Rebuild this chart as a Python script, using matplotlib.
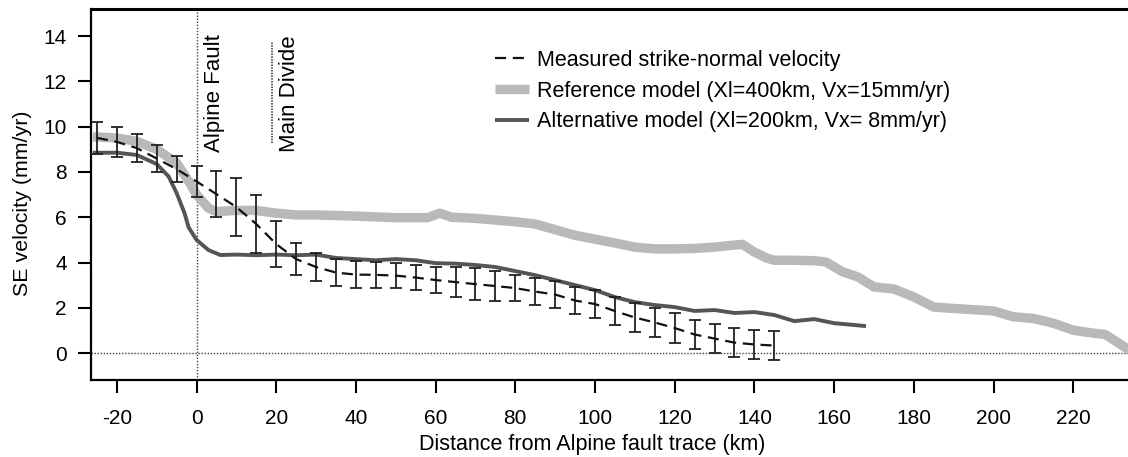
import numpy as np
import matplotlib
matplotlib.use('Agg')
from matplotlib import pyplot as plt

plt.rcParams['font.family'] = ['Liberation Sans', 'DejaVu Sans']
plt.rcParams['axes.unicode_minus'] = False

# measured strike-normal velocity (every 5 km) with error bar limits
meas_x = np.arange(-25, 150, 5)
meas_top = [10.22, 10.0, 9.67, 9.19, 8.70, 8.26, 8.04, 7.73, 6.98, 5.83,
            4.86, 4.42, 4.15, 4.06, 4.04, 3.97, 3.89, 3.80, 3.80, 3.75,
            3.62, 3.44, 3.31, 3.18, 2.92, 2.78, 2.47, 2.21, 1.99, 1.77,
            1.46, 1.28, 1.10, 1.02, 0.97]
meas_bot = [8.79, 8.66, 8.44, 8.00, 7.55, 6.90, 6.00, 5.17, 4.42, 3.80,
            3.44, 3.18, 2.96, 2.87, 2.87, 2.87, 2.78, 2.65, 2.47, 2.34,
            2.30, 2.30, 2.12, 1.99, 1.72, 1.55, 1.24, 0.93, 0.71, 0.44,
            0.18, 0.00, -0.18, -0.26, -0.31]
meas_top = np.array(meas_top)
meas_bot = np.array(meas_bot)
meas_v = (meas_top + meas_bot) / 2

# reference model (Xl=400km, Vx=15mm/yr)
ref_x = [-26, -20, -15, -10, -5, -2, 0, 3, 5, 10, 15, 20, 25, 30, 40, 50,
         58, 61, 64, 70, 80, 85, 90, 95, 100, 105, 110, 115, 120, 125, 130,
         135, 137, 140, 143, 145, 150, 155, 158, 162, 166, 170, 175, 180,
         185, 190, 200, 205, 210, 215, 220, 225, 228, 231, 234]
ref_v = [9.55, 9.5, 9.35, 9.0, 8.4, 7.6, 7.0, 6.4, 6.25, 6.3, 6.3, 6.18,
         6.1, 6.1, 6.05, 5.98, 5.98, 6.18, 6.0, 5.95, 5.8, 5.7, 5.45, 5.2,
         5.03, 4.86, 4.68, 4.6, 4.6, 4.62, 4.68, 4.77, 4.8, 4.46, 4.2, 4.1,
         4.1, 4.08, 4.02, 3.6, 3.36, 2.92, 2.83, 2.48, 2.03, 1.97, 1.86,
         1.6, 1.53, 1.32, 1.01, 0.88, 0.82, 0.49, 0.13]

# alternative model (Xl=200km, Vx=8mm/yr)
alt_x = [-26, -20, -15, -10, -7, -5, -3, -2, 0, 3, 6, 10, 15, 20, 25, 30,
         35, 40, 45, 50, 55, 60, 65, 70, 75, 80, 85, 90, 95, 100, 105, 110,
         115, 120, 125, 130, 135, 140, 145, 150, 155, 160, 165, 168]
alt_v = [8.85, 8.85, 8.75, 8.35, 7.8, 7.07, 6.18, 5.56, 5.0, 4.55, 4.33,
         4.35, 4.32, 4.35, 4.32, 4.35, 4.2, 4.15, 4.1, 4.15, 4.1, 3.97,
         3.95, 3.89, 3.8, 3.62, 3.44, 3.22, 3.0, 2.78, 2.47, 2.25, 2.12,
         2.03, 1.86, 1.9, 1.77, 1.81, 1.68, 1.41, 1.5, 1.32, 1.24, 1.19]

fig = plt.figure(figsize=(11.28, 4.57), dpi=100)
ax = fig.add_axes([0.0807, 0.1685, 0.9193, 0.8129])

# reference lines
ax.axhline(0, color='#444444', lw=1.0, ls=(0, (1, 1.2)), zorder=1)
ax.axvline(0, color='#444444', lw=1.0, ls=(0, (1, 1.2)), zorder=1)
ax.plot([19, 19], [9.28, 13.74], color='#333333', lw=1.1, ls=(0, (1, 0.8)))

ax.plot(ref_x, ref_v, color='#b9b9b9', lw=6.8, solid_capstyle='butt',
        label='Reference model (Xl=400km, Vx=15mm/yr)', zorder=2)
ax.plot(alt_x, alt_v, color='#555555', lw=2.8, solid_capstyle='butt',
        label='Alternative model (Xl=200km, Vx= 8mm/yr)', zorder=3)
ax.errorbar(meas_x, meas_v, yerr=[meas_v - meas_bot, meas_top - meas_v],
            fmt='none', ecolor='#222222', elinewidth=1.3, capsize=4,
            capthick=1.3, zorder=4)
ax.plot(meas_x, meas_v, color='#111111', lw=1.6, ls=(0, (5, 3)),
        label='Measured strike-normal velocity', zorder=5)

ax.text(4.6, 8.9, 'Alpine Fault', rotation=90, fontsize=16,
        ha='center', va='bottom')
ax.text(23.3, 8.9, 'Main Divide', rotation=90, fontsize=16,
        ha='center', va='bottom')

ax.set_xlim(-26.47, 233.75)
ax.set_ylim(-1.19, 15.22)
ax.set_xticks(np.arange(-20, 221, 20))
ax.set_yticks(np.arange(0, 15, 2))
ax.tick_params(direction='out', length=9.5, width=1.5, labelsize=15,
               pad=8)
ax.tick_params(axis='x', pad=11.5)
ax.spines['right'].set_visible(False)
ax.spines['top'].set_linewidth(2.2)
ax.spines['left'].set_linewidth(1.6)
ax.spines['bottom'].set_linewidth(1.6)

ax.set_xlabel('Distance from Alpine fault trace (km)', fontsize=15.5)
ax.xaxis.set_label_coords(0.483, -0.145)
ax.set_ylabel('SE velocity (mm/yr)', fontsize=15.4)
ax.yaxis.set_label_coords(-0.057, 0.476)

h, l = ax.get_legend_handles_labels()
order = [2, 0, 1]
ax.legend([h[i] for i in order], [l[i] for i in order], frameon=False,
          fontsize=15.5, loc='upper left', bbox_to_anchor=(495 / 1128, 1 - 50 / 457),
          bbox_transform=fig.transFigure, borderpad=0, borderaxespad=0,
          handlelength=1.6, handletextpad=0.35, labelspacing=0.45)

fig.savefig('out.png', dpi=100)
